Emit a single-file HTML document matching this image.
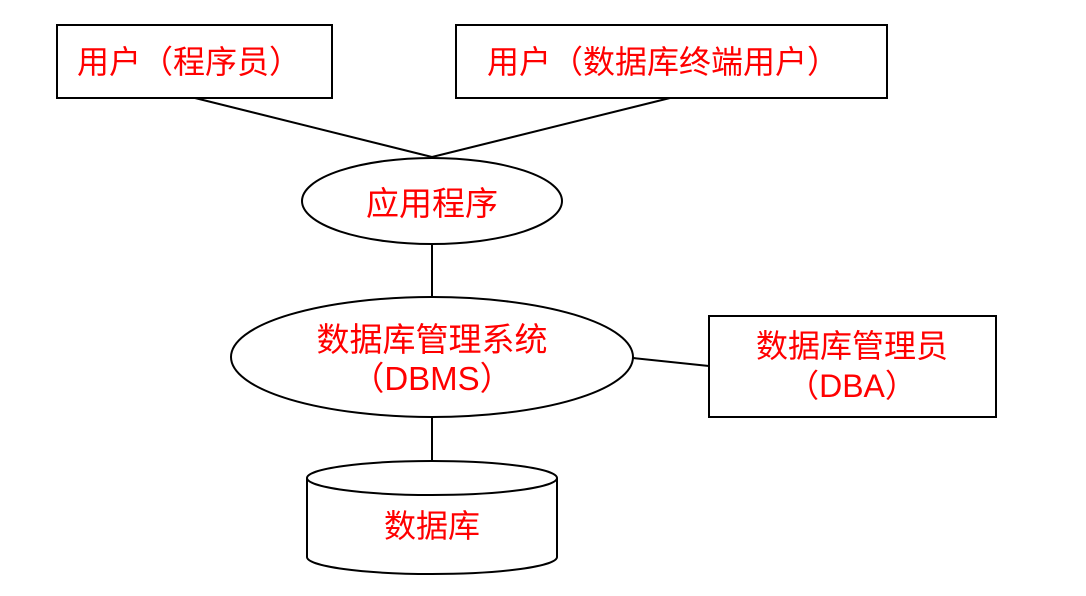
<!DOCTYPE html>
<html><head><meta charset="utf-8"><style>
html,body{margin:0;padding:0;background:#fff;}
svg text{font-family:"Liberation Sans","Noto Sans CJK SC",sans-serif;fill:#f00;}
</style></head><body>
<svg width="1086" height="591" viewBox="0 0 1086 591" xmlns="http://www.w3.org/2000/svg">
<g fill="none" stroke="#000" stroke-width="2">
<rect x="57" y="25" width="275" height="73"/>
<rect x="456" y="25" width="431" height="73"/>
<line x1="195" y1="98" x2="432" y2="157"/>
<line x1="670" y1="98" x2="432" y2="157"/>
<ellipse cx="432" cy="201" rx="130" ry="43"/>
<line x1="432" y1="244" x2="432" y2="297"/>
<ellipse cx="432" cy="357" rx="201" ry="60"/>
<line x1="633" y1="358" x2="709" y2="366"/>
<rect x="709" y="316" width="287" height="101"/>
<line x1="432" y1="417" x2="432" y2="461"/>
<path d="M307 478 L307 557 A125 17 0 0 0 557 557 L557 478"/>
<ellipse cx="432" cy="478" rx="125" ry="17"/>
</g>
<text x="77" y="73" font-size="32">用户（程序员）</text>
<text x="487" y="73" font-size="32">用户（数据库终端用户）</text>
<text x="432" y="215" font-size="33" text-anchor="middle">应用程序</text>
<text x="432" y="351" font-size="33" text-anchor="middle">数据库管理系统</text>
<text x="432" y="390" font-size="33" text-anchor="middle">（DBMS）</text>
<text x="852" y="357" font-size="32" text-anchor="middle">数据库管理员</text>
<text x="852" y="397" font-size="32" text-anchor="middle">（DBA）</text>
<text x="432" y="537" font-size="32" text-anchor="middle">数据库</text>
</svg>
</body></html>
